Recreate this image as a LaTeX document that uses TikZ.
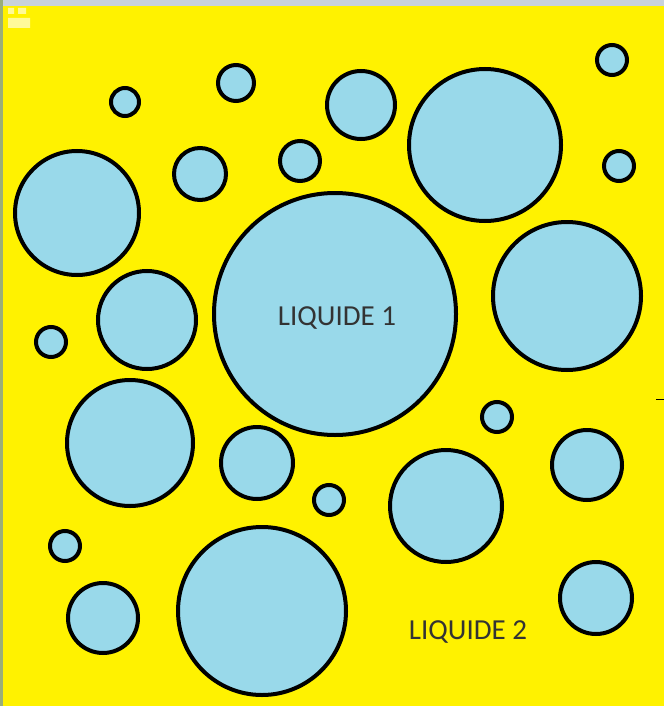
\documentclass[tikz,border=0pt]{standalone}
\usepackage{fontspec}
\setmainfont{Carlito}
\definecolor{bg}{HTML}{FFF200}
\definecolor{drop}{HTML}{99D9EA}
\definecolor{frametop}{HTML}{C8D2DC}
\definecolor{frameleft}{HTML}{9AAE78}
\begin{document}
\begin{tikzpicture}[x=1pt,y=-1pt,
  bubble/.style={fill=drop,draw=black,line width=4pt},
  label/.style={font=\fontsize{29}{34}\selectfont,text=black!80}]
\useasboundingbox (0,0) rectangle (664,706);
% background and window edges
\fill[bg] (0,0) rectangle (664,706);
\fill[frametop] (0,0) rectangle (664,6);
\fill[frameleft] (0,0) rectangle (3,706);
\fill[white!60!bg] (8,8) rectangle (14,14) (18,8) rectangle (26,14) (8,18) rectangle (30,28);
% droplets
\foreach \cx/\cy/\r in {
  125/102/14, 236/83/18, 361/105/34, 485/145/76, 612/60/15, 619/166/15,
  77/213/62, 200/174/26, 300/161/20, 335/314/121, 567/296/74, 147/320/49,
  51/342/15, 130/443/63, 257/463/36, 497/417/15, 587/465/35, 329/500/15,
  446/506/56, 65/546/15, 103/618/35, 262/611/84, 596/598/36}
  \draw[bubble] (\cx,\cy) circle[radius=\r];
% short tick at the right edge
\draw[line width=1pt] (656,399) -- (664,399);
\node[label] (l1) at (337,318) {LIQUIDE 1};
\node[label] (l2) at (468,632) {LIQUIDE 2};
\end{tikzpicture}
\end{document}
